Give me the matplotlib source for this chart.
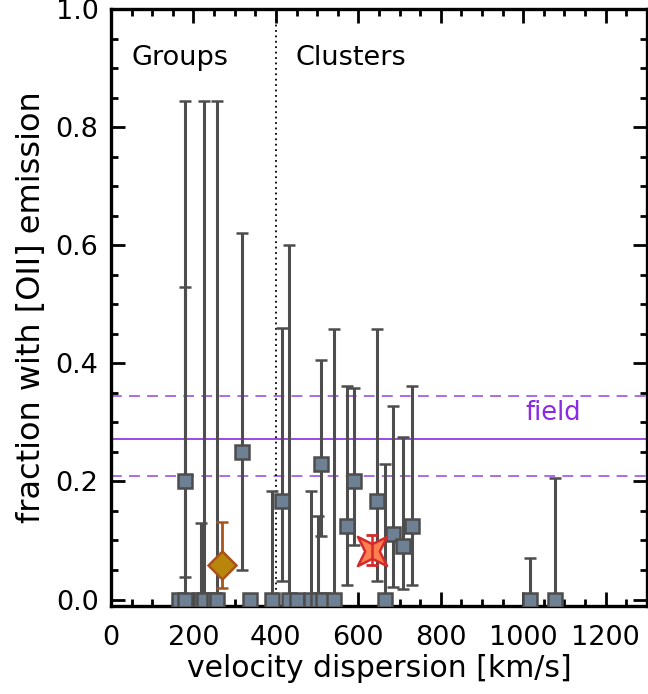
import matplotlib.pyplot as plt
from matplotlib.ticker import MultipleLocator

# groups / clusters with measured [OII] fraction
sigma = [179, 318, 415, 509, 572, 590, 646, 685, 709, 731]
frac = [0.20, 0.25, 0.167, 0.23, 0.124, 0.20, 0.167, 0.111, 0.09, 0.125]
frac_lo = [0.038, 0.05, 0.032, 0.107, 0.024, 0.092, 0.032, 0.021, 0.017, 0.024]
frac_hi = [0.53, 0.62, 0.46, 0.405, 0.362, 0.358, 0.458, 0.328, 0.275, 0.362]

# systems with no [OII] emitters (upper error only)
sigma0 = [165, 179, 218, 225, 249, 256, 338, 390, 432, 450, 484, 501, 515, 541, 665, 1016, 1078]
hi0 = [0.0, 0.845, 0.13, 0.845, 0.0, 0.845, 0.0, 0.184, 0.60, 0.0, 0.184, 0.142, 0.0, 0.458, 0.23, 0.07, 0.205]

# stacked samples
diamond_x, diamond_y, diamond_lo, diamond_hi = 269, 0.058, 0.02, 0.131
star_x, star_y, star_lo, star_hi = 632, 0.082, 0.058, 0.11

# field value and its range
field = 0.272
field_lo = 0.209
field_hi = 0.345

# four-pointed star with tips on the diagonals
star_verts = [(1, 1), (0, 0.5), (-1, 1), (-0.5, 0), (-1, -1), (0, -0.5),
              (1, -1), (0.5, 0), (1, 1)]

plt.rcParams['font.family'] = ['DejaVu Sans']
fig = plt.figure(figsize=(6.48, 6.94), dpi=100)
ax = fig.add_axes([0.1713, 0.1268, 0.827, 0.860])

ax.axhline(field, color='#8a2be2', lw=1.2, zorder=1)
ax.axhline(field_lo, color='#a260e8', lw=1.3, ls=(0, (6, 4)), zorder=1)
ax.axhline(field_hi, color='#a260e8', lw=1.3, ls=(0, (6, 4)), zorder=1)
ax.text(1073, 0.316, 'field', color='#8a2be2', fontsize=18.5, ha='center', va='center')

ax.axvline(400, color='black', lw=1.3, ls=(0, (1, 2)), zorder=1)

gray = '#4d4d4d'
lo0 = [0.0] * len(sigma0)
ax.errorbar(sigma0, [0.0] * len(sigma0), yerr=[lo0, hi0], fmt='s', color=gray,
            ms=10, mfc='#6e8094', mec=gray, mew=1.8, elinewidth=2.2,
            capsize=4, capthick=2.2, zorder=3)
ax.errorbar(sigma, frac, yerr=[[f - l for f, l in zip(frac, frac_lo)],
                               [h - f for f, h in zip(frac, frac_hi)]],
            fmt='s', color=gray, ms=10, mfc='#6e8094', mec=gray, mew=1.8,
            elinewidth=2.2, capsize=4, capthick=2.2, zorder=3)

ax.errorbar([diamond_x], [diamond_y],
            yerr=[[diamond_y - diamond_lo], [diamond_hi - diamond_y]],
            fmt='D', color='#a8521c', ms=14, mfc='#b8860b', mec='#a8521c',
            mew=1.8, elinewidth=2, capsize=4, capthick=2, zorder=4)
ax.plot([star_x], [star_y], marker=star_verts, ms=21, mfc='#ff7f50', mec='#d42a2a',
        mew=1.8, zorder=5)
ax.errorbar([star_x], [star_y], yerr=[[star_y - star_lo], [star_hi - star_y]],
            fmt='none', ecolor='#d42a2a', elinewidth=1.8, capsize=4, capthick=2, zorder=6)

ax.text(50, 0.917, 'Groups', fontsize=19.5, va='center')
ax.text(448, 0.917, 'Clusters', fontsize=19.5, va='center')

ax.set_xlim(0, 1300)
ax.set_ylim(-0.011, 1.0)
ax.xaxis.set_major_locator(MultipleLocator(200))
ax.xaxis.set_minor_locator(MultipleLocator(50))
ax.yaxis.set_major_locator(MultipleLocator(0.2))
ax.yaxis.set_minor_locator(MultipleLocator(0.05))
ax.tick_params(which='both', direction='in', top=True, right=True, width=2,
               labelsize=19.5)
ax.tick_params(axis='x', pad=14)
ax.tick_params(axis='y', pad=9)
ax.tick_params(which='major', length=10)
ax.tick_params(which='minor', length=5)
ax.yaxis.set_major_formatter(plt.FuncFormatter(lambda v, p: '%.1f' % v))
for s in ax.spines.values():
    s.set_linewidth(2.4)

ax.set_xlabel('velocity dispersion [km/s]', fontsize=21.5, labelpad=2)
ax.set_ylabel('fraction with [OII] emission', fontsize=23, labelpad=6)

fig.savefig('out.png', dpi=100)
